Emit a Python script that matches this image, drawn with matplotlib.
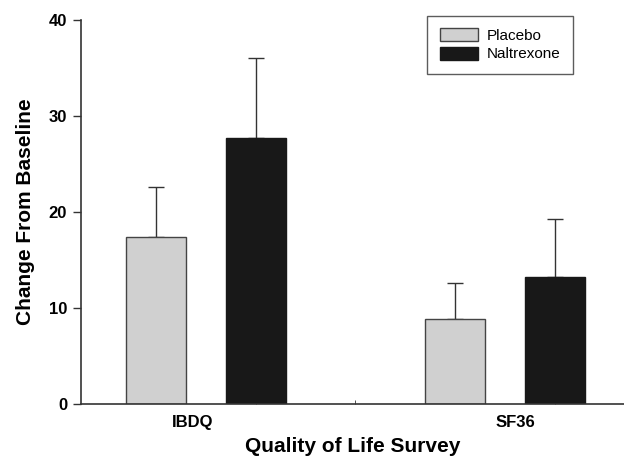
#!/usr/bin/env python3

import numpy as np
import matplotlib
matplotlib.use('Agg')
import matplotlib.pyplot as plt
from matplotlib.patches import Patch

plt.rcParams['font.family'] = ['Liberation Sans', 'DejaVu Sans']

surveys = ['IBDQ', 'SF36']
groups = ['Placebo', 'Naltrexone']
placebo = [17.4, 8.85]
placebo_err = [5.2, 3.8]
naltrexone = [27.7, 13.25]
naltrexone_err = [8.3, 6.05]

colors = ['#d0d0d0', '#181818']
edges = ['#444444', '#181818']

x = np.arange(len(surveys))
width = 0.2
offset = 0.167

fig = plt.figure(figsize=(6.24, 4.61), dpi=100)
ax = fig.add_axes([0.13, 0.1236, 0.87, 0.833])

for vals, errs, sign, col, ec in zip((placebo, naltrexone), (placebo_err, naltrexone_err),
                                      (-1, 1), colors, edges):
  ax.bar(x + sign * offset, vals, width, color=col, edgecolor=ec, linewidth=1.0, zorder=2)
  ax.errorbar(x + sign * offset, vals, yerr=[np.zeros(len(errs)), errs], fmt='none',
              ecolor='#333333', elinewidth=1.0, capsize=5.5, capthick=1.0, zorder=1)

ax.set_xlim(-0.4166, 1.3976)
ax.set_ylim(0, 40)
ax.set_yticks([0, 10, 20, 30, 40])
ax.set_yticklabels(['0', '10', '20', '30', '40'], fontweight='bold', fontsize=12)
ax.set_xticks(x + np.array([-0.045, 0.035]))
ax.set_xticklabels(surveys, fontweight='bold', fontsize=12)
ax.tick_params(axis='x', length=0, pad=8)
ax.tick_params(axis='y', length=6, width=1.0, color='#333333', pad=4)
ax.set_xticks([offset, 0.5, 1 + offset], minor=True)
ax.tick_params(axis='x', which='minor', direction='in', length=3, color='#333333')

for side in ('top', 'right'):
  ax.spines[side].set_visible(False)
for side in ('left', 'bottom'):
  ax.spines[side].set_color('#333333')
  ax.spines[side].set_linewidth(1.2)

ax.set_xlabel('Quality of Life Survey', fontweight='bold', fontsize=15, labelpad=5)
ax.set_ylabel('Change From Baseline', fontweight='bold', fontsize=15, labelpad=10)

handles = [Patch(facecolor=c, edgecolor=e, linewidth=1.0, label=g) for c, e, g in zip(colors, edges, groups)]
leg = ax.legend(handles=handles, loc='upper right', bbox_to_anchor=(0.906, 1.01), fontsize=11,
                frameon=True, fancybox=False, edgecolor='#333333', handlelength=2.5,
                handleheight=0.9, borderpad=0.8, labelspacing=0.25, handletextpad=0.6,
                borderaxespad=0)
leg.get_frame().set_linewidth(1.0)

plt.savefig('out.png', dpi=100)
plt.close()
